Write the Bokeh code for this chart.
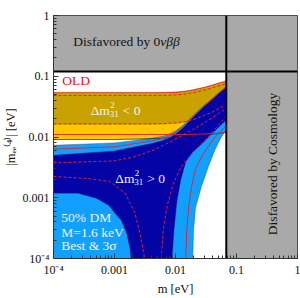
from math import pi
from bokeh.plotting import figure
from bokeh.models import FixedTicker, CustomJSTickFormatter, Range1d
from bokeh.core.properties import value
from bokeh.embed import file_html
from bokeh.resources import INLINE

# ---------------- axes ----------------
m_min, m_max = 1e-4, 1.0
mee_min, mee_max = 1e-4, 1.0
tick_values = [1e-4, 1e-3, 1e-2, 1e-1, 1.0]
tick_labels = ["10⁻⁴", "0.001", "0.01", "0.1", "1"]
x_label = "m [eV]"
y_label = "|mₑₑ⁽⁴⁾| [eV]"

# ---------------- limits ----------------
cosmo_limit_m = 0.068
bb0v_limit_mee = 0.12

# ---------------- inverted ordering (dm31^2 < 0) ----------------
io_m = [1e-4, 0.001, 0.003, 0.006, 0.01, 0.015, 0.02, 0.03, 0.04, 0.05, 0.06, 0.068]
io_best_top = [0.0519, 0.0519, 0.0519, 0.0520, 0.0528, 0.0548, 0.0580, 0.0636, 0.0690, 0.0740, 0.0780, 0.0815]
io_3s_top = [0.0545, 0.0545, 0.0545, 0.0546, 0.0554, 0.0575, 0.0608, 0.0667, 0.0722, 0.0775, 0.0815, 0.0850]
io_best_bot = [0.0159, 0.0159, 0.0159, 0.0160, 0.0165, 0.0175, 0.0190, 0.0220, 0.0250, 0.0280, 0.0310, 0.0330]
io_3s_bot = [0.0091, 0.0091, 0.0093, 0.0095, 0.0098, 0.0101, 0.0105, 0.0108, 0.0111, 0.0114, 0.0117, 0.0120]

old_io_best_top = [0.0482, 0.0482, 0.0482, 0.0483, 0.0491, 0.0510, 0.0540, 0.0592, 0.0642, 0.0690, 0.0728, 0.0760]
old_io_best_bot = [0.0165, 0.0165, 0.0165, 0.0166, 0.0171, 0.0181, 0.0196, 0.0226, 0.0257, 0.0288, 0.0318, 0.0340]
old_io_3s_top = [0.0532, 0.0532, 0.0532, 0.0533, 0.0541, 0.0562, 0.0595, 0.0652, 0.0707, 0.0758, 0.0798, 0.0832]
old_io_3s_bot = [0.0110, 0.0110, 0.0110, 0.0110, 0.0110, 0.0110, 0.0111, 0.0112, 0.0114, 0.0116, 0.0118, 0.0120]

# ---------------- normal ordering (dm31^2 > 0) ----------------
no_m = [1e-4, 0.001, 0.002, 0.004, 0.006, 0.008, 0.01, 0.013, 0.016, 0.02, 0.03, 0.04, 0.05, 0.068]
no_3s_top = [0.0073, 0.0080, 0.0087, 0.0095, 0.0102, 0.0112, 0.0126, 0.0153, 0.0186, 0.0233, 0.0338, 0.0431, 0.0525, 0.0680]
no_best_top = [0.0050, 0.0059, 0.0068, 0.0078, 0.0087, 0.0097, 0.0112, 0.0138, 0.0171, 0.0218, 0.0323, 0.0415, 0.0508, 0.0660]

no_best_left_m = [1e-4, 2.5e-4, 5e-4, 8e-4, 1e-3, 1.3e-3, 1.6e-3, 1.8e-3, 1.86e-3]
no_best_left_mee = [0.00119, 0.00119, 0.00098, 0.00075, 0.00057, 0.00042, 0.00025, 0.00014, 1e-4]

no_best_right_m = [0.00879, 0.00946, 0.01057, 0.01225, 0.01476, 0.0191, 0.0277, 0.0400, 0.0538, 0.068]
no_best_right_mee = [1e-4, 0.000292, 0.000887, 0.0020, 0.00389, 0.00564, 0.00787, 0.01138, 0.0153, 0.0191]

no_3s_right_m = [0.0191, 0.0198, 0.0213, 0.0267, 0.0345, 0.0448, 0.0559, 0.068]
no_3s_right_mee = [1e-4, 0.000292, 0.000684, 0.00155, 0.00324, 0.0063, 0.00982, 0.0132]

# old (red) contours, normal ordering
old_no_best_max_m = [1e-4, 0.000992, 0.00207, 0.00436, 0.00912, 0.0191, 0.0333, 0.0625, 0.068]
old_no_best_max_mee = [0.00375, 0.00404, 0.00469, 0.00607, 0.00879, 0.0132, 0.0184, 0.0277, 0.0287]
old_no_best_left_m = [1e-4, 0.000339, 0.00083, 0.00149, 0.00215, 0.00259, 0.00312]
old_no_best_left_mee = [0.00224, 0.00208, 0.00186, 0.00119, 0.000569, 0.000272, 1e-4]
old_no_best_right_m = [0.00585, 0.0063, 0.0073, 0.00912, 0.0118, 0.0165, 0.0239, 0.0358, 0.050, 0.068]
old_no_best_right_mee = [1e-4, 0.000292, 0.000737, 0.00166, 0.0030, 0.00469, 0.00678, 0.01057, 0.0153, 0.0221]
old_no_3s_max = [0.0063, 0.0069, 0.0077, 0.0086, 0.0094, 0.0104, 0.0119, 0.0145, 0.0178, 0.0225, 0.0330, 0.0423, 0.0516, 0.0670]
old_no_3s_right_m = [0.01476, 0.0153, 0.0165, 0.0184, 0.0213, 0.0277, 0.0372, 0.050, 0.068]
old_no_3s_right_mee = [1e-4, 0.000292, 0.000737, 0.00155, 0.0030, 0.00504, 0.00787, 0.01138, 0.0153]

# ---------------- colours ----------------
GRAY = "#A9A9A9"
GOLD = "#C9A200"
YELLOW = "#FFC800"
LBLUE = "#12A0FF"
NAVY = "#0303A6"
RED = "#E3202C"
EDGE = "#2a2a55"
FONT = value("Liberation Serif")

p = figure(width=300, height=298, x_axis_type="log", y_axis_type="log",
           x_range=Range1d(m_min, m_max), y_range=Range1d(mee_min, mee_max),
           output_backend="svg", toolbar_location=None,
           min_border_left=48, min_border_right=3, min_border_top=15, min_border_bottom=34)
p.background_fill_color = "white"
p.border_fill_color = "white"
p.grid.visible = False
p.outline_line_color = "#333333"

# inverted ordering bands
p.patch(io_m + io_m[::-1], io_3s_top + io_3s_bot[::-1], fill_color=YELLOW,
        line_color=EDGE, line_width=0.5, line_alpha=0.5)
p.patch(io_m + io_m[::-1], io_best_top + io_best_bot[::-1], fill_color=GOLD,
        line_color=None)

# normal ordering, 3 sigma
lb_x = no_m + no_3s_right_m[::-1] + [m_min]
lb_y = no_3s_top + no_3s_right_mee[::-1] + [mee_min]
p.patch(lb_x, lb_y, fill_color=LBLUE, line_color=EDGE, line_width=0.6, line_alpha=0.6)

# normal ordering, best fit
nv_x = no_m + no_best_right_m[::-1] + no_best_left_m[::-1]
nv_y = no_best_top + no_best_right_mee[::-1] + no_best_left_mee[::-1]
p.patch(nv_x, nv_y, fill_color=NAVY, line_color=EDGE, line_width=0.6, line_alpha=0.6)

# outline of the inverted 3 sigma lower edge, visible across the normal band
p.line(io_m, io_3s_bot, line_color="#1a1a3a", line_width=0.7, line_alpha=0.8)

# old contours
dash = dict(line_color=RED, line_width=1, line_dash="3 2")
solid = dict(line_color=RED, line_width=0.9)
p.line(io_m, old_io_best_top, **dash)
p.line(io_m, old_io_best_bot, **dash)
p.line(io_m, old_io_3s_top, **solid)
p.line(io_m, old_io_3s_bot, **solid)
p.line(old_no_best_max_m, old_no_best_max_mee, **dash)
p.line(old_no_best_left_m, old_no_best_left_mee, **dash)
p.line(old_no_best_right_m, old_no_best_right_mee, **dash)
p.line(no_m, old_no_3s_max, **solid)
p.line(old_no_3s_right_m, old_no_3s_right_mee, **solid)

# disfavoured regions
p.quad(left=[m_min], right=[m_max], bottom=[bb0v_limit_mee], top=[mee_max],
       fill_color=GRAY, line_color=None)
p.quad(left=[cosmo_limit_m], right=[m_max], bottom=[mee_min], top=[bb0v_limit_mee],
       fill_color=GRAY, line_color=None)
p.line([m_min, m_max], [bb0v_limit_mee, bb0v_limit_mee], line_color="black", line_width=2)
p.line([cosmo_limit_m, cosmo_limit_m], [mee_min, mee_max], line_color="black", line_width=2)

# texts
TS = "13.5px"
p.text(x=[0.00564], y=[0.368], text=["Disfavored by 0"], text_font=FONT,
       text_font_size=TS, text_align="right", text_baseline="middle", text_color="#111111")
p.text(x=[0.00564], y=[0.368], text=["νββ"], text_font=FONT, text_font_style="italic",
       text_font_size=TS, text_align="left", text_baseline="middle", text_color="#111111")
p.text(x=[0.382], y=[0.00361], text=["Disfavored by Cosmology"], angle=pi / 2,
       text_font=FONT, text_font_size=TS, text_align="center", text_baseline="middle",
       text_color="#111111")
p.text(x=[0.0001395], y=[0.0839], text=["OLD"], text_font=FONT, text_font_size=TS,
       text_align="left", text_baseline="middle", text_color="#F01010")

WH = "#F4F4F4"
for (ax, ay, rel) in [(0.000407, 0.0277, "< 0"), (0.00103, 0.00208, "> 0")]:
    p.text(x=[ax], y=[ay], text=["Δm"], text_font=FONT, text_font_size=TS,
           text_align="left", text_baseline="middle", text_color=WH)
    p.text(x=[ax], y=[ay], text=["2"], x_offset=19.5, y_offset=-5, text_font=FONT,
           text_font_size="9px", text_align="left", text_baseline="middle", text_color=WH)
    p.text(x=[ax], y=[ay], text=["31"], x_offset=19, y_offset=4, text_font=FONT,
           text_font_size="9px", text_align="left", text_baseline="middle", text_color=WH)
    p.text(x=[ax], y=[ay], text=[rel], x_offset=32, text_font=FONT, text_font_size=TS,
           text_align="left", text_baseline="middle", text_color=WH)

p.text(x=[0.0001345] * 3, y=[0.000473, 0.000272, 0.000162],
       text=["50% DM", "M=1.6 keV", "Best & 3σ"], text_font=FONT, text_font_size=TS,
       text_align="left", text_baseline="middle", text_color=WH)

# axes styling
minor = [k * 10.0 ** e for e in range(-4, 0) for k in range(2, 10)]
fmt = CustomJSTickFormatter(args=dict(vals=tick_values, labels=tick_labels), code="""
for (let i = 0; i < vals.length; i++) {
  if (Math.abs(Math.log10(tick) - Math.log10(vals[i])) < 1e-6) return labels[i];
}
return '';
""")
for ax in (p.xaxis[0], p.yaxis[0]):
    ax.ticker = FixedTicker(ticks=tick_values, minor_ticks=minor)
    ax.formatter = fmt
    ax.major_tick_in = 5
    ax.major_tick_out = 0
    ax.minor_tick_in = 3
    ax.minor_tick_out = 0
    ax.major_label_text_font = "Liberation Serif"
    ax.major_label_text_font_size = "12px"
    ax.major_label_text_color = "#111111"
    ax.major_label_standoff = 4
    ax.axis_line_color = "#333333"
    ax.major_tick_line_color = "#333333"
    ax.minor_tick_line_color = "#333333"
    ax.axis_label_text_font = "Liberation Serif"
    ax.axis_label_text_font_size = "12.5px"
    ax.axis_label_text_font_style = "normal"
    ax.axis_label_text_color = "#111111"
    ax.axis_label_standoff = 2

p.xaxis[0].axis_label = x_label
p.yaxis[0].axis_label = y_label

open("out.html", "w").write(file_html(p, INLINE))
